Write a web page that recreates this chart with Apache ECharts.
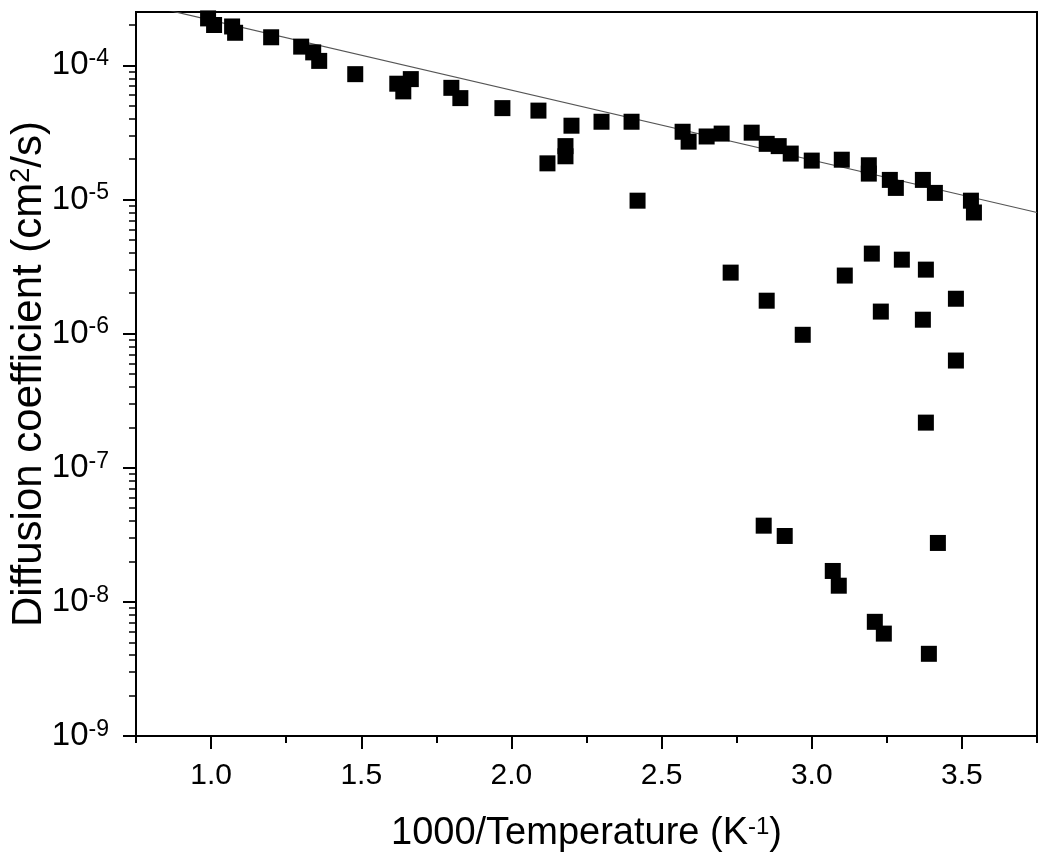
<!DOCTYPE html>
<html>
<head>
<meta charset="utf-8">
<script src="https://cdn.jsdelivr.net/npm/echarts@6/dist/echarts.min.js"></script>
<style>html,body{margin:0;padding:0;background:#fff;}#c{width:1050px;height:867px;}</style>
</head>
<body>
<div id="c"></div>
<script>
// 1000/T (K^-1) and diffusion coefficient (cm^2/s)
const invT = [0.99,1.01,1.07,1.08,1.20,1.30,1.34,1.36,1.48,1.62,1.64,1.665,1.80,1.83,1.97,2.09,2.12,2.18,2.18,2.20,2.30,2.40,2.42,2.57,2.59,2.65,2.70,2.80,2.85,2.89,2.93,3.00,3.10,3.19,3.19,3.26,3.28,3.37,3.41,3.53,3.54,
  2.73,2.85,2.97,3.11,3.20,3.23,3.30,3.38,3.37,3.48,3.48,3.38,
  2.84,2.91,3.07,3.09,3.21,3.24,3.39,3.42];
const diff = [2.24e-4,2.0e-4,1.95e-4,1.75e-4,1.62e-4,1.38e-4,1.25e-4,1.08e-4,8.6e-5,7.3e-5,6.4e-5,7.9e-5,6.8e-5,5.7e-5,4.8e-5,4.6e-5,1.86e-5,2.5e-5,2.1e-5,3.55e-5,3.8e-5,3.8e-5,9.8e-6,3.2e-5,2.7e-5,2.95e-5,3.1e-5,3.15e-5,2.6e-5,2.5e-5,2.2e-5,1.95e-5,1.98e-5,1.8e-5,1.56e-5,1.4e-5,1.22e-5,1.4e-5,1.12e-5,9.8e-6,8.0e-6,
  2.85e-6,1.76e-6,9.8e-7,2.71e-6,3.95e-6,1.46e-6,3.56e-6,3.0e-6,1.27e-6,1.82e-6,6.3e-7,2.17e-7,
  3.7e-8,3.1e-8,1.7e-8,1.32e-8,7.1e-9,5.8e-9,4.1e-9,2.75e-8];
// Fitted Arrhenius line (end points)
const fitX = [0.75, 3.75];
const fitD = [2.93e-4, 8.0e-6];
// Axis ticks
const xMajor = [1.0, 1.5, 2.0, 2.5, 3.0, 3.5];
const xMinor = [0.75, 1.25, 1.75, 2.25, 2.75, 3.25, 3.75];
const yExp = [-9, -8, -7, -6, -5, -4];
const yMaxD = 2.5e-4;

const yMinor = [];
yExp.forEach(e => { for (let k = 2; k <= 9; k++) { const v = e + Math.log10(k); if (v <= Math.log10(yMaxD)) yMinor.push(v); } });

const FONT = "'Liberation Sans', Arial, Helvetica, sans-serif";
const chart = echarts.init(document.getElementById('c'), null, {renderer: 'canvas'});
const yMin = -9, yMax = Math.log10(yMaxD);

chart.setOption({
  backgroundColor: '#fff',
  animation: false,
  grid: {left: 136, right: 13, top: 12, bottom: 131, show: true, borderColor: '#000', borderWidth: 2, backgroundColor: 'transparent', containLabel: false, outerBoundsMode: 'none'},
  xAxis: [{
    type: 'value', min: 0.75, max: 3.75, interval: 0.25,
    name: '1000/Temperature (K{s|-1})', nameLocation: 'middle', nameGap: 79, nameMoveOverlap: false,
    nameTextStyle: {fontFamily: FONT, fontSize: 38, color: '#000',
      rich: {s: {fontFamily: FONT, fontSize: 24, color: '#000', verticalAlign: 'top', lineHeight: 24}}},
    axisLine: {show: true, lineStyle: {color: '#000', width: 2}},
    axisTick: {show: true, customValues: xMajor, length: 13, lineStyle: {color: '#000', width: 2}},
    axisLabel: {customValues: xMajor, formatter: v => v.toFixed(1), fontFamily: FONT, fontSize: 30, color: '#000', margin: 25},
    splitLine: {show: false}
  }, {
    type: 'value', min: 0.75, max: 3.75, interval: 0.25, position: 'bottom', gridIndex: 0,
    axisLine: {show: false},
    axisTick: {show: true, customValues: xMinor, length: 7, lineStyle: {color: '#000', width: 2}},
    axisLabel: {show: false}, splitLine: {show: false}
  }],
  yAxis: [{
    type: 'value', min: yMin, max: yMax, interval: 1,
    name: 'Diffusion coefficient (cm{s|2}/s)', nameLocation: 'middle', nameGap: 86, nameRotate: 90, nameMoveOverlap: false,
    nameTextStyle: {fontFamily: FONT, fontSize: 42, color: '#000',
      rich: {s: {fontFamily: FONT, fontSize: 27, color: '#000', verticalAlign: 'top', lineHeight: 27}}},
    axisLine: {show: true, lineStyle: {color: '#000', width: 2}},
    axisTick: {show: true, customValues: yExp, length: 13, lineStyle: {color: '#000', width: 2}},
    axisLabel: {customValues: yExp, margin: 27,
      formatter: v => '{b|10}{s|' + Math.round(v) + '}',
      rich: {
        b: {fontFamily: FONT, fontSize: 33, color: '#000', lineHeight: 36},
        s: {fontFamily: FONT, fontSize: 23, color: '#000', verticalAlign: 'top', lineHeight: 22}
      }},
    splitLine: {show: false}
  }, {
    type: 'value', min: yMin, max: yMax, interval: 1, position: 'left', gridIndex: 0,
    axisLine: {show: false},
    axisTick: {show: true, customValues: yMinor, length: 7, lineStyle: {color: '#000', width: 1.5}},
    axisLabel: {show: false}, splitLine: {show: false}
  }],
  series: [{
    type: 'line', xAxisIndex: 0, yAxisIndex: 0,
    data: fitX.map((x, i) => [x, Math.log10(fitD[i])]),
    showSymbol: false, symbol: 'none', clip: true,
    lineStyle: {color: '#555', width: 1.2}, z: 2
  }, {
    type: 'scatter', xAxisIndex: 0, yAxisIndex: 0,
    data: invT.map((x, i) => [x, Math.log10(diff[i])]),
    symbol: 'rect', symbolSize: 16,
    itemStyle: {color: '#000', opacity: 1}, z: 3
  }]
});
</script>
</body>
</html>
